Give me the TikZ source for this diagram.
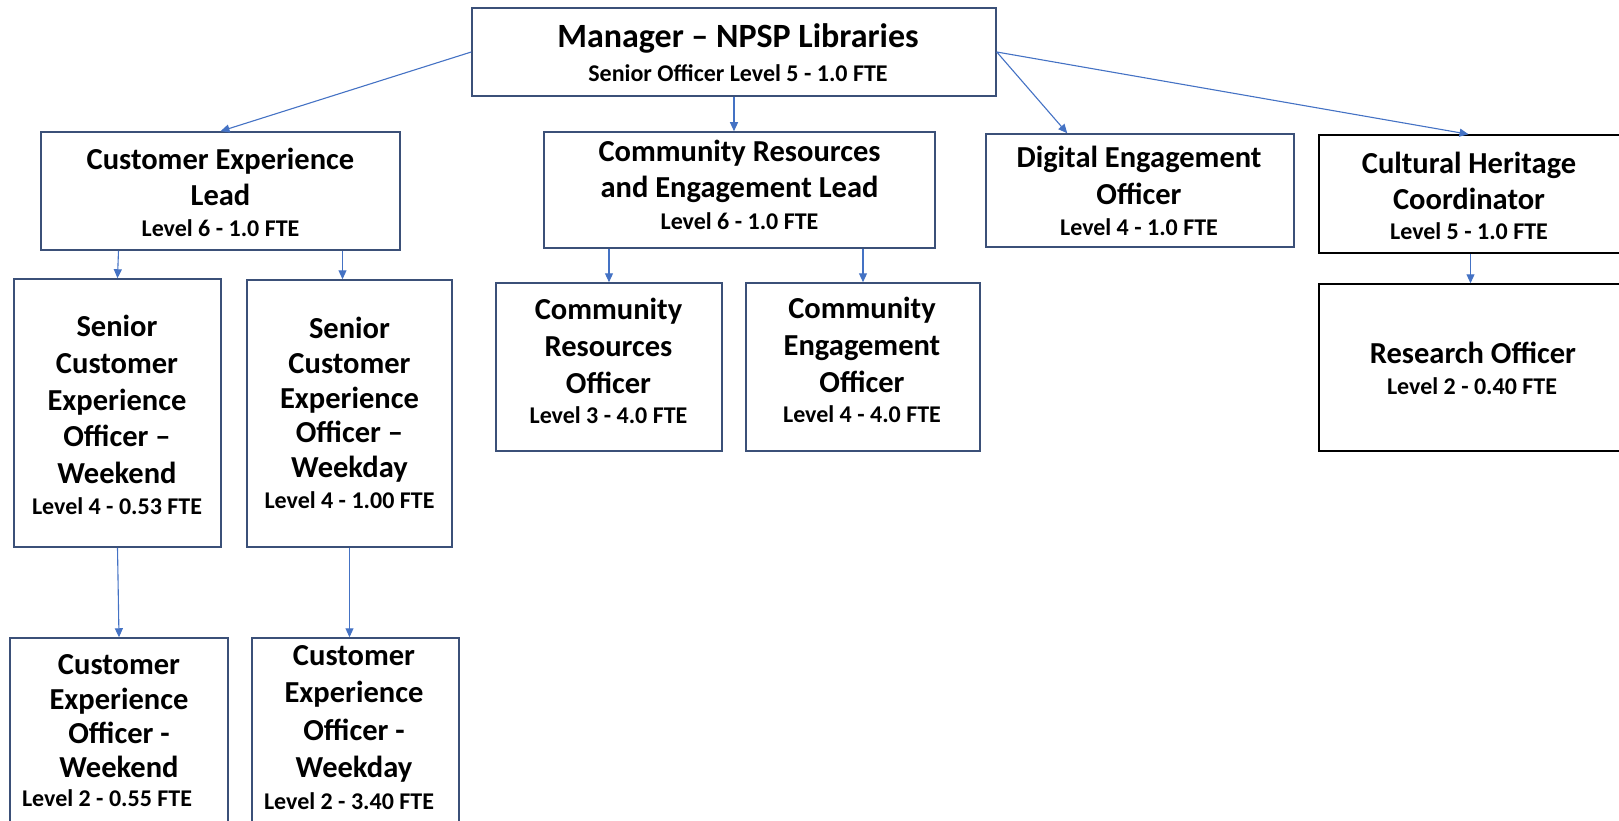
\documentclass[tikz,border=0pt]{standalone}
\usepackage{fontspec}
\setmainfont{Carlito}
\usetikzlibrary{arrows.meta}
\definecolor{boxblue}{RGB}{59,80,120}
\definecolor{linkblue}{RGB}{68,114,196}

\begin{document}
\begin{tikzpicture}[x=1pt, y=-1pt, >={Triangle[length=9pt,width=8pt]},
    box/.style={draw=boxblue, line width=1.5pt, inner sep=0pt},
    link/.style={->, draw=linkblue, line width=1.1pt},
    ttl/.style={font=\fontsize{30.5}{#1}\selectfont\bfseries, align=center, inner sep=0pt},
    ttl/.default=36,
    lvl/.style={font=\fontsize{24}{28}\selectfont\bfseries, inner sep=0pt}]
    \useasboundingbox (0,0) rectangle (1619,821);

    % 绘制方框
    \node[box, minimum width=524pt, minimum height=88pt] (mgr) at (734,52) {};
    \node[box, minimum width=359pt, minimum height=118pt] (cel) at (220.5,191) {};
    \node[box, minimum width=391pt, minimum height=116pt] (crel) at (739.5,190) {};
    \node[box, minimum width=308pt, minimum height=113pt] (deo) at (1140,190.5) {};
    \node[box, draw=black, minimum width=303pt, minimum height=118pt] (chc) at (1470.5,194) {};
    \node[box, draw=black, minimum width=303pt, minimum height=167pt] (ro) at (1470.5,367.5) {};
    \node[box, minimum width=226pt, minimum height=168pt] (cro) at (609,367) {};
    \node[box, minimum width=234pt, minimum height=168pt] (ceo) at (863,367) {};
    \node[box, minimum width=207pt, minimum height=268pt] (scw) at (117.5,413) {};
    \node[box, minimum width=205pt, minimum height=267pt] (scd) at (349.5,413.5) {};
    \node[box, minimum width=218pt, minimum height=192pt] (cew) at (119,734) {};
    \node[box, minimum width=207pt, minimum height=192pt] (ced) at (355.5,734) {};

    % 绘制文字
    \node[ttl, font=\fontsize{34}{40}\selectfont\bfseries] (mgr-t) at (738,38) {Manager -- NPSP Libraries};
    \node[lvl] (mgr-l) at (738,73) {Senior Officer Level 5 - 1.0 FTE};
    \node[ttl] (cel-t) at (220.5,177) {Customer Experience\\Lead};
    \node[lvl] (cel-l) at (220.5,228) {Level 6 - 1.0 FTE};
    \node[ttl] (crel-t) at (739.5,171) {Community Resources\\and Engagement Lead};
    \node[lvl] (crel-l) at (739.5,221) {Level 6 - 1.0 FTE};
    \node[ttl=37] (deo-t) at (1139,175.5) {Digital Engagement\\Officer};
    \node[lvl] (deo-l) at (1139,227) {Level 4 - 1.0 FTE};
    \node[ttl] (chc-t) at (1469,181) {Cultural Heritage\\Coordinator};
    \node[lvl] (chc-l) at (1469,231) {Level 5 - 1.0 FTE};
    \node[ttl] (ro-t) at (1473,353) {Research Officer};
    \node[lvl] (ro-l) at (1472,386) {Level 2 - 0.40 FTE};
    \node[ttl=37] (cro-t) at (608.5,346) {Community\\Resources\\Officer};
    \node[lvl] (cro-l) at (608.5,415) {Level 3 - 4.0 FTE};
    \node[ttl=37] (ceo-t) at (862,345) {Community\\Engagement\\Officer};
    \node[lvl] (ceo-l) at (862,414) {Level 4 - 4.0 FTE};
    \node[ttl=36.75] (scw-t) at (117,399.6) {Senior\\Customer\\Experience\\Officer --\\Weekend};
    \node[lvl] (scw-l) at (117,506) {Level 4 - 0.53 FTE};
    \node[ttl=34.75] (scd-t) at (349.5,399.8) {Senior\\Customer\\Experience\\Officer --\\Weekday};
    \node[lvl] (scd-l) at (349.5,500) {Level 4 - 1.00 FTE};
    \node[ttl=34.3] (cew-t) at (119,716.5) {Customer\\Experience\\Officer -\\Weekend};
    \node[lvl] (cew-l) at (107,798) {Level 2 - 0.55 FTE};
    \node[ttl=37.3] (ced-t) at (354,714) {Customer\\Experience\\Officer -\\Weekday};
    \node[lvl] (ced-l) at (349,801) {Level 2 - 3.40 FTE};

    % 绘制箭头
    \draw[link] (mgr.west) -- (cel.north);
    \draw[link] (mgr.south) -- (mgr.south |- crel.north);
    \draw[link] (mgr.east) -- ([xshift=82pt]deo.north west);
    \draw[link] (mgr.east) -- ([xshift=-2pt]chc.north);
    \draw[link] ([xshift=1pt]scw.north |- cel.south) -- (scw.north);
    \draw[link] ([xshift=-7pt]scd.north |- cel.south) -- ([xshift=-7pt]scd.north);
    \draw[link] (cro.north |- crel.south) -- (cro.north);
    \draw[link] (ceo.north |- crel.south) -- (ceo.north);
    \draw[link] (ro.north |- chc.south) -- (ro.north);
    \draw[link] (scw.south) -- (cew.north);
    \draw[link] (scd.south) -- (scd.south |- ced.north);
\end{tikzpicture}
\end{document}
